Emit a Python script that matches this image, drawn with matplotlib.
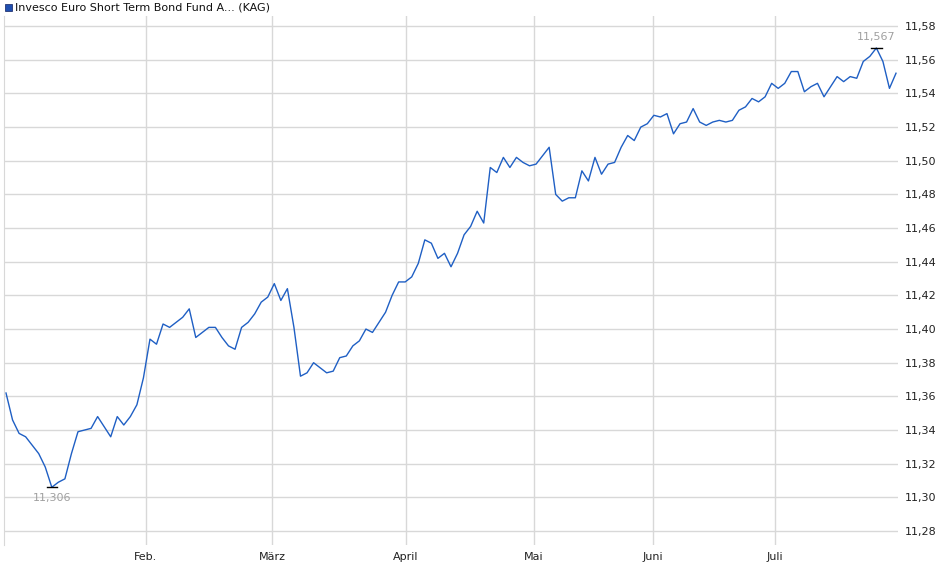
import matplotlib
matplotlib.use("Agg")
import matplotlib.pyplot as plt
import numpy as np

values = [11.362,11.346,11.338,11.336,11.331,11.326,11.318,11.306,11.309,11.311,
11.326,11.339,11.340,11.341,11.348,11.342,11.336,11.348,11.343,11.348,
11.355,11.371,11.394,11.391,11.403,11.401,11.404,11.407,11.412,11.395,
11.398,11.401,11.401,11.395,11.390,11.388,11.401,11.404,11.409,11.416,
11.419,11.427,11.417,11.424,11.401,11.372,11.374,11.380,11.377,11.374,
11.375,11.383,11.384,11.390,11.393,11.400,11.398,11.404,11.410,11.420,
11.428,11.428,11.431,11.439,11.453,11.451,11.442,11.445,11.437,11.445,
11.456,11.461,11.470,11.463,11.496,11.493,11.502,11.496,11.502,11.499,
11.497,11.498,11.503,11.508,11.480,11.476,11.478,11.478,11.494,11.488,
11.502,11.492,11.498,11.499,11.508,11.515,11.512,11.520,11.522,11.527,
11.526,11.528,11.516,11.522,11.523,11.531,11.523,11.521,11.523,11.524,
11.523,11.524,11.530,11.532,11.537,11.535,11.538,11.546,11.543,11.546,
11.553,11.553,11.541,11.544,11.546,11.538,11.544,11.550,11.547,11.550,
11.549,11.559,11.562,11.567,11.559,11.543,11.552]
month_labels = ["Feb.", "März", "April", "Mai", "Juni", "Juli"]
month_px = [146, 272, 406, 534, 653, 775]
yticks = [11.28,11.30,11.32,11.34,11.36,11.38,11.40,11.42,11.44,11.46,11.48,11.50,11.52,11.54,11.56,11.58]
title = "Invesco Euro Short Term Bond Fund A... (KAG)"

W, H = 940, 579
fig = plt.figure(figsize=(W/100, H/100), dpi=100)
L, R, T, B = 4, 898, 16, 545
ax = fig.add_axes([L/W, 1-B/H, (R-L)/W, (B-T)/H])
n = len(values)
x = np.arange(n)
step = 890/(n-1)
ax.plot(x, values, color="#1f5fc4", lw=1.0)
ax.set_xlim(-(6-L)/step, (n-1)+(R-896)/step)
ax.set_ylim(11.2717, 11.586)
ax.set_xticks([(p-6)/step for p in month_px])
ax.set_xticklabels(month_labels, fontsize=8, color="#222222")
ax.set_yticks(yticks)
ax.set_yticklabels([f"{v:.2f}".replace(".", ",") for v in yticks], fontsize=8, color="#222222")
ax.yaxis.tick_right()
ax.tick_params(axis="both", length=0, pad=5)
ax.grid(True, color="#d8d8d8", lw=1)
for s in ax.spines.values():
    s.set_visible(False)
ax.spines["left"].set_visible(True)
ax.spines["left"].set_color("#d8d8d8")

imin = int(np.argmin(values)); imax = int(np.argmax(values))
for i, va, off in [(imin, "top", -4), (imax, "bottom", 4)]:
    ax.plot([i-0.8, i+0.8], [values[i], values[i]], color="black", lw=1)
    ax.annotate(f"{values[i]:.3f}".replace(".", ","), (i, values[i]), xytext=(0, off),
                textcoords="offset points", ha="center", va=va, fontsize=8, color="#a0a0a0")

fig.patches.append(plt.Rectangle((5/W, 1-11/H), 7/W, 7/H, transform=fig.transFigure,
                                 facecolor="#1f4fb0", edgecolor="#102060", lw=0.5))
fig.text(15/W, 1-7.5/H, title, fontsize=8, va="center", ha="left", color="#111111")
fig.savefig("out.png", dpi=100)
